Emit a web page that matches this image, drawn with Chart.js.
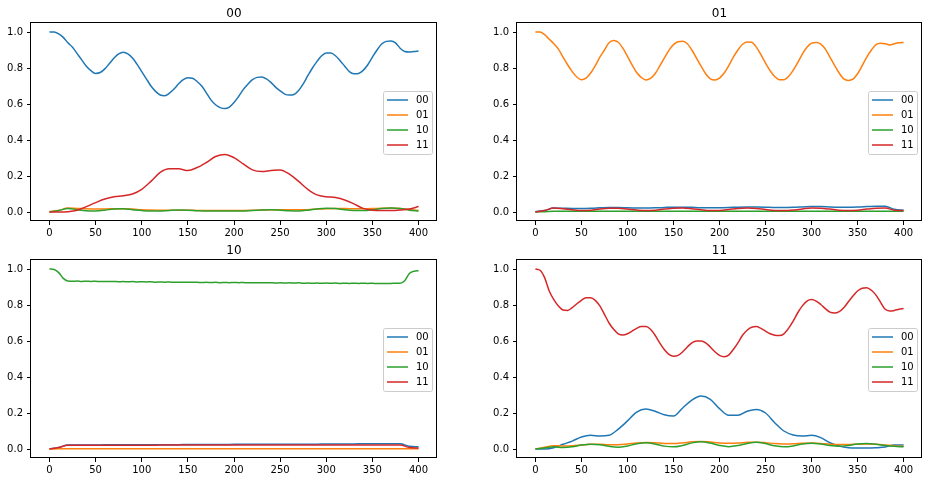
<!DOCTYPE html>
<html>
<head>
<meta charset="utf-8">
<script src="https://cdn.jsdelivr.net/npm/chart.js@4.4.0/dist/chart.umd.min.js"></script>
<style>
  html, body { margin: 0; padding: 0; background: #fff; }
  #wrap { position: relative; width: 930px; height: 482px; }
  #wrap canvas { position: absolute; }
</style>
</head>
<body>
<div id="wrap">
  <canvas id="c00" width="465" height="241" style="left:0;top:0"></canvas>
  <canvas id="c01" width="465" height="241" style="left:465px;top:0"></canvas>
  <canvas id="c10" width="465" height="241" style="left:0;top:241px"></canvas>
  <canvas id="c11" width="465" height="241" style="left:465px;top:241px"></canvas>
</div>
<script>
	// x grids
	let xFine = [0,5,10,15,20,25,30,35,40,45,50,55,60,65,70,75,80,85,90,95,100,105,110,115,120,125,130,135,140,145,
		150,155,160,165,170,175,180,185,190,195,200,205,210,215,220,225,230,235,240,245,250,255,260,265,270,275,280,285,290,295,
		300,305,310,315,320,325,330,335,340,345,350,355,360,365,370,375,380,385,390,395,400];
	let xCoarse = [0,10,20,30,40,50,60,70,80,90,100,110,120,130,140,150,160,170,180,190,
		200,210,220,230,240,250,260,270,280,290,300,310,320,330,340,350,360,370,380,390,400];

	let seriesNames = ['00', '01', '10', '11'];
	let seriesColors = ['#1f77b4', '#ff7f0e', '#2ca02c', '#d62728'];
	let xTicks = [0, 50, 100, 150, 200, 250, 300, 350, 400];
	let yTicks = [0, 0.2, 0.4, 0.6, 0.8, 1.0];

	// panel "00"
	let p00_00 = [1.0,1.0,0.99,0.97,0.94,0.915,0.88,0.845,0.81,0.785,
		0.77,0.775,0.795,0.825,0.855,0.878,0.887,0.878,0.855,0.82,
		0.78,0.74,0.70,0.67,0.65,0.646,0.66,0.683,0.712,0.735,
		0.746,0.743,0.725,0.70,0.662,0.623,0.596,0.58,0.575,0.583,
		0.608,0.642,0.68,0.71,0.735,0.748,0.75,0.74,0.72,0.694,
		0.673,0.655,0.65,0.653,0.675,0.712,0.757,0.80,0.837,0.868,
		0.883,0.883,0.868,0.84,0.81,0.78,0.768,0.77,0.787,0.818,
		0.86,0.90,0.933,0.948,0.95,0.94,0.91,0.892,0.889,0.892,
		0.894];
	let p00_01 = [0.003,0.008,0.022,0.02,0.018,0.017,0.017,0.018,0.018,0.016,
		0.013,0.011,0.01,0.01,0.01,0.01,0.009,0.008,0.008,0.008,
		0.008,0.009,0.01,0.011,0.012,0.012,0.012,0.012,0.013,0.016,
		0.018,0.019,0.019,0.018,0.018,0.019,0.021,0.022,0.02,0.014,
		0.008];
	let p00_10 = [0.0,0.008,0.02,0.013,0.007,0.006,0.01,0.017,0.018,0.013,
		0.008,0.005,0.006,0.009,0.011,0.01,0.007,0.005,0.005,0.005,
		0.005,0.006,0.009,0.011,0.012,0.01,0.007,0.006,0.01,0.017,
		0.021,0.019,0.013,0.009,0.008,0.012,0.019,0.022,0.02,0.01,
		0.005];
	let p00_11 = [0.0,0.0,0.002,0.01,0.03,0.052,0.072,0.085,0.09,0.1,
		0.126,0.17,0.22,0.24,0.24,0.23,0.247,0.275,0.308,0.32,
		0.302,0.267,0.234,0.225,0.23,0.234,0.21,0.17,0.126,0.095,
		0.085,0.08,0.067,0.045,0.02,0.01,0.008,0.008,0.011,0.017,
		0.03];

	// panel "01"
	let p01_00 = [0.003,0.008,0.022,0.021,0.02,0.02,0.021,0.023,0.025,0.025,
		0.023,0.022,0.022,0.023,0.025,0.027,0.027,0.026,0.024,0.024,
		0.024,0.025,0.027,0.028,0.028,0.027,0.025,0.025,0.026,0.028,
		0.03,0.03,0.028,0.027,0.027,0.028,0.03,0.032,0.032,0.015,
		0.01];
	let p01_01 = [1.0,1.0,0.985,0.96,0.935,0.905,0.86,0.818,0.78,0.75,
		0.735,0.744,0.772,0.813,0.86,0.90,0.94,0.953,0.943,0.91,
		0.865,0.818,0.775,0.748,0.733,0.742,0.768,0.81,0.855,0.898,
		0.93,0.946,0.948,0.935,0.90,0.855,0.81,0.768,0.74,0.733,
		0.744,0.772,0.813,0.86,0.90,0.932,0.945,0.943,0.916,0.874,
		0.827,0.785,0.753,0.735,0.735,0.753,0.787,0.83,0.877,0.915,
		0.938,0.942,0.933,0.905,0.86,0.815,0.772,0.74,0.731,0.738,
		0.768,0.813,0.86,0.90,0.93,0.938,0.935,0.928,0.935,0.94,
		0.942];
	let p01_10 = [0.0,0.002,0.004,0.004,0.004,0.004,0.004,0.004,0.004,0.004,
		0.004,0.004,0.004,0.004,0.004,0.004,0.004,0.004,0.004,0.004,
		0.004,0.004,0.004,0.004,0.004,0.004,0.004,0.004,0.004,0.004,
		0.004,0.004,0.004,0.004,0.004,0.004,0.004,0.004,0.004,0.004,
		0.004];
	let p01_11 = [0.0,0.008,0.022,0.018,0.012,0.008,0.01,0.016,0.021,0.021,
		0.016,0.011,0.008,0.01,0.016,0.021,0.022,0.018,0.012,0.008,
		0.009,0.014,0.02,0.022,0.02,0.014,0.009,0.008,0.011,0.017,
		0.022,0.021,0.016,0.01,0.008,0.01,0.016,0.021,0.022,0.01,
		0.008];

	// panel "10"
	let p10_00 = [0.0,0.008,0.022,0.022,0.022,0.022,0.023,0.023,0.023,0.023,
		0.023,0.024,0.024,0.024,0.024,0.025,0.025,0.025,0.025,0.025,
		0.026,0.026,0.026,0.026,0.026,0.027,0.027,0.027,0.027,0.027,
		0.028,0.028,0.028,0.028,0.029,0.029,0.029,0.029,0.029,0.015,
		0.012];
	let p10_01 = [0.0,0.001,0.002,0.002,0.002,0.002,0.002,0.002,0.002,0.002,
		0.002,0.002,0.002,0.002,0.002,0.002,0.002,0.002,0.002,0.002,
		0.002,0.002,0.002,0.002,0.002,0.002,0.002,0.002,0.002,0.002,
		0.002,0.002,0.002,0.002,0.002,0.002,0.002,0.002,0.002,0.002,
		0.002];
	let p10_10 = [1.0,0.997,0.98,0.948,0.933,0.932,0.933,0.931,0.932,0.931,
		0.932,0.930,0.931,0.930,0.931,0.929,0.930,0.929,0.930,0.928,
		0.929,0.928,0.929,0.927,0.928,0.927,0.928,0.926,0.927,0.926,
		0.927,0.926,0.926,0.925,0.926,0.925,0.926,0.924,0.925,0.924,
		0.925,0.924,0.925,0.923,0.924,0.923,0.924,0.923,0.924,0.922,
		0.923,0.922,0.923,0.922,0.923,0.921,0.922,0.921,0.922,0.921,
		0.922,0.921,0.922,0.920,0.921,0.920,0.921,0.920,0.921,0.920,
		0.921,0.919,0.920,0.920,0.920,0.921,0.921,0.935,0.975,0.988,
		0.99];
	let p10_11 = [0.0,0.008,0.021,0.021,0.021,0.021,0.021,0.021,0.021,0.021,
		0.021,0.021,0.022,0.022,0.022,0.022,0.022,0.022,0.022,0.022,
		0.022,0.022,0.022,0.022,0.022,0.022,0.022,0.022,0.022,0.022,
		0.022,0.022,0.022,0.022,0.022,0.022,0.022,0.022,0.022,0.008,
		0.005];

	// panel "11"
	let p11_00 = [0.0,0.0,0.007,0.026,0.044,0.067,0.076,0.072,0.076,0.11,
		0.156,0.205,0.222,0.21,0.19,0.183,0.228,0.272,0.294,0.276,
		0.224,0.187,0.187,0.21,0.22,0.2,0.146,0.1,0.078,0.072,
		0.076,0.063,0.035,0.017,0.007,0.005,0.005,0.007,0.011,0.022,
		0.022];
	let p11_01 = [0.0,0.01,0.018,0.017,0.018,0.022,0.026,0.026,0.024,0.024,
		0.028,0.033,0.036,0.035,0.031,0.03,0.034,0.04,0.042,0.039,
		0.034,0.032,0.033,0.037,0.038,0.035,0.03,0.028,0.029,0.032,
		0.033,0.031,0.027,0.025,0.025,0.027,0.028,0.026,0.022,0.018,
		0.015];
	let p11_10 = [0.0,0.006,0.012,0.008,0.012,0.022,0.027,0.024,0.015,0.01,
		0.017,0.029,0.035,0.028,0.016,0.012,0.02,0.034,0.04,0.033,
		0.02,0.013,0.019,0.031,0.037,0.03,0.018,0.012,0.017,0.028,
		0.032,0.028,0.019,0.015,0.02,0.028,0.03,0.026,0.02,0.015,
		0.012];
	let p11_11 = [1.0,0.993,0.952,0.878,0.83,0.795,0.772,0.77,0.785,0.807,
		0.826,0.84,0.84,0.826,0.795,0.748,0.70,0.665,0.64,0.633,
		0.64,0.655,0.67,0.68,0.68,0.665,0.632,0.59,0.553,0.526,
		0.515,0.52,0.54,0.567,0.59,0.60,0.60,0.59,0.567,0.54,
		0.52,0.513,0.522,0.553,0.59,0.632,0.66,0.676,0.68,0.67,
		0.655,0.64,0.632,0.63,0.64,0.67,0.71,0.757,0.795,0.822,
		0.83,0.822,0.803,0.78,0.76,0.755,0.763,0.785,0.818,0.85,
		0.878,0.893,0.896,0.882,0.855,0.815,0.776,0.767,0.77,0.776,
		0.78];

	let panels = [
		{ id: 'c00', title: '00', pad: { left: 0, top: 23, right: 28, bottom: 0 }, xH: 20,
			series: [[xFine, p00_00], [xCoarse, p00_01], [xCoarse, p00_10], [xCoarse, p00_11]] },
		{ id: 'c01', title: '01', pad: { left: 21, top: 23, right: 8, bottom: 0 }, xH: 20,
			series: [[xCoarse, p01_00], [xFine, p01_01], [xCoarse, p01_10], [xCoarse, p01_11]] },
		{ id: 'c10', title: '10', pad: { left: 0, top: 19, right: 28, bottom: 0 }, xH: 24,
			series: [[xCoarse, p10_00], [xCoarse, p10_01], [xFine, p10_10], [xCoarse, p10_11]] },
		{ id: 'c11', title: '11', pad: { left: 21, top: 19, right: 8, bottom: 0 }, xH: 24,
			series: [[xCoarse, p11_00], [xCoarse, p11_01], [xCoarse, p11_10], [xFine, p11_11]] }
	];

	let fontFamily = '"DejaVu Sans", sans-serif';

	// frame, title and in-axes legend, matplotlib style
	let panelDecor = {
		id: 'panelDecor',
		afterDraw(chart, args, opts) {
			let ctx = chart.ctx;
			let a = chart.chartArea;
			ctx.save();
			ctx.strokeStyle = '#000';
			ctx.lineWidth = 1;
			ctx.strokeRect(a.left - 0.5, a.top - 0.5, a.right - a.left, a.bottom - a.top);

			ctx.fillStyle = '#000';
			ctx.font = '12px ' + fontFamily;
			ctx.textAlign = 'center';
			ctx.textBaseline = 'alphabetic';
			ctx.fillText(opts.title, (a.left + a.right) / 2, a.top - 6);

			let w = 49, h = 63;
			let x0 = a.right - 5 - w;
			let y0 = Math.round((a.top + a.bottom) / 2 - h / 2);
			ctx.beginPath();
			ctx.roundRect(x0 + 0.5, y0 + 0.5, w, h, 2);
			ctx.fillStyle = 'rgba(255,255,255,0.8)';
			ctx.fill();
			ctx.strokeStyle = '#cccccc';
			ctx.stroke();

			ctx.font = '10px ' + fontFamily;
			ctx.textAlign = 'left';
			ctx.textBaseline = 'middle';
			seriesNames.forEach(function(name, i) {
				let y = y0 + 9 + 15 * i;
				ctx.beginPath();
				ctx.moveTo(x0 + 4, y);
				ctx.lineTo(x0 + 25, y);
				ctx.strokeStyle = seriesColors[i];
				ctx.lineWidth = 1.5;
				ctx.stroke();
				ctx.fillStyle = '#000';
				ctx.fillText(name, x0 + 33, y + 0.5);
			});
			ctx.restore();
		}
	};

	panels.forEach(function(p) {
		let datasets = p.series.map(function(s, i) {
			return {
				label: seriesNames[i],
				data: s[0].map(function(x, k) { return { x: x, y: s[1][k] }; }),
				borderColor: seriesColors[i],
				borderWidth: 1.5,
				pointRadius: 0,
				fill: false,
				cubicInterpolationMode: 'monotone',
				order: 3 - i
			};
		});

		new Chart(document.getElementById(p.id), {
			type: 'line',
			data: { datasets: datasets },
			options: {
				responsive: false,
				animation: false,
				devicePixelRatio: 1,
				layout: { padding: p.pad },
				plugins: {
					legend: { display: false },
					tooltip: { enabled: false },
					panelDecor: { title: p.title }
				},
				scales: {
					x: {
						type: 'linear',
						min: -20,
						max: 420,
						afterBuildTicks: function(s) { s.ticks = xTicks.map(function(v) { return { value: v }; }); },
						afterFit: function(s) { s.height = p.xH; },
						grid: { drawOnChartArea: false, drawTicks: true, tickLength: 4, color: '#000', tickColor: '#000' },
						border: { display: false },
						ticks: {
							maxRotation: 0,
							autoSkip: false,
							padding: 2,
							color: '#000',
							font: { family: fontFamily, size: 10 },
							callback: function(v) { return String(v); }
						}
					},
					y: {
						type: 'linear',
						min: -0.05,
						max: 1.05,
						afterBuildTicks: function(s) { s.ticks = yTicks.map(function(v) { return { value: v }; }); },
						afterFit: function(s) { s.width = 31; },
						grid: { drawOnChartArea: false, drawTicks: true, tickLength: 4, color: '#000', tickColor: '#000' },
						border: { display: false },
						ticks: {
							autoSkip: false,
							padding: 4,
							color: '#000',
							font: { family: fontFamily, size: 10 },
							callback: function(v) { return v.toFixed(1); }
						}
					}
				}
			},
			plugins: [panelDecor]
		});
	});
</script>
</body>
</html>
